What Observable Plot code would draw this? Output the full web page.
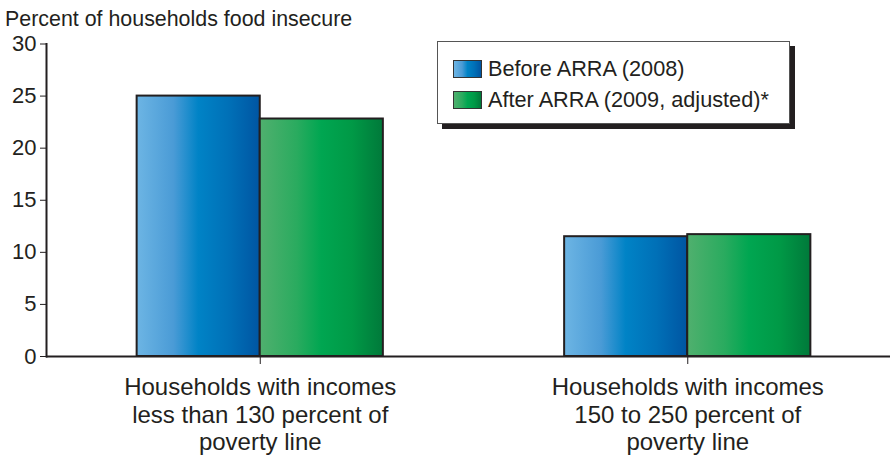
<!DOCTYPE html>
<html>
<head>
<meta charset="utf-8">
<script src="https://cdn.jsdelivr.net/npm/d3@7"></script>
<script src="https://cdn.jsdelivr.net/npm/@observablehq/plot@0.6"></script>
<style>
  html, body { margin: 0; padding: 0; background: #fff; }
  #wrap { position: relative; width: 890px; height: 459px; font-family: "Liberation Sans", Arial, sans-serif; color: #231f20; }
  #title { height: 36px; line-height: 36px; padding-left: 5px; padding-top: 1px; font-size: 21.4px; box-sizing: border-box; white-space: nowrap; }
  #legend { position: absolute; left: 437px; top: 41px; width: 353px; height: 83px; box-sizing: border-box;
            background: #fff; border: 1.5px solid #555; box-shadow: 5px 5px 0 #231f20; }
  .row { position: absolute; left: 15px; display: flex; align-items: center; font-size: 21.7px; white-space: nowrap; }
  .sw { width: 29px; height: 18px; box-sizing: border-box; border: 1px solid #333; margin-right: 6px; }
</style>
</head>
<body>
<div id="wrap">
  <div id="title"></div>
  <div id="chart"></div>
  <div id="legend"></div>
</div>
<script>
// Food insecurity by income group, before and after ARRA
const titleText = "Percent of households food insecure";
const categories = ["lt130", "150to250"];
const categoryLabels = [
  "Households with incomes\nless than 130 percent of\npoverty line",
  "Households with incomes\n150 to 250 percent of\npoverty line"
];
const seriesNames = ["Before ARRA (2008)", "After ARRA (2009, adjusted)*"];
const before2008 = [25.0, 11.5];
const after2009 = [22.8, 11.7];
const yTicks = [0, 5, 10, 15, 20, 25, 30];

const ink = "#231f20";
const blueStops = [[0, "#6db5e4"], [0.3, "#4a9bd6"], [0.5, "#0083c6"], [0.75, "#0070b7"], [1, "#0055a2"]];
const greenStops = [[0, "#50b06e"], [0.3, "#2aab5f"], [0.5, "#00a651"], [0.75, "#009946"], [1, "#00793a"]];

const rowsBefore = categories.map((c, i) => ({category: c, value: before2008[i]}));
const rowsAfter = categories.map((c, i) => ({category: c, value: after2009[i]}));
const labelOf = new Map(categories.map((c, i) => [c, categoryLabels[i]]));

// gradient definitions shared by the bars
function gradientDefs() {
  const defs = d3.create("svg:defs");
  for (const [id, stops] of [["gradBefore", blueStops], ["gradAfter", greenStops]]) {
    const g = defs.append("linearGradient").attr("id", id).attr("x1", 0).attr("x2", 1).attr("y1", 0).attr("y2", 0);
    for (const [o, c] of stops) g.append("stop").attr("offset", o).attr("stop-color", c);
  }
  return defs.node();
}

const chart = Plot.plot({
  width: 890,
  height: 423,
  marginTop: 7.5,
  marginBottom: 103,
  marginLeft: 46,
  marginRight: 0,
  style: {fontFamily: "Liberation Sans, Arial, sans-serif", color: ink, background: "#fff", overflow: "visible"},
  x: {domain: categories, range: [46, 901], paddingInner: 0.712, paddingOuter: 0.356, round: false},
  y: {domain: [0, 30]},
  marks: [
    gradientDefs,
    Plot.barY(rowsBefore, {x: "category", y: "value", fill: "url(#gradBefore)", stroke: ink, strokeWidth: 2, dx: -61.55}),
    Plot.barY(rowsAfter, {x: "category", y: "value", fill: "url(#gradAfter)", stroke: ink, strokeWidth: 2, dx: 61.55}),
    Plot.axisY({ticks: yTicks, tickSize: 6, tickPadding: 4, fontSize: 22, color: ink, label: null}),
    Plot.frame({anchor: "left", stroke: ink, strokeWidth: 2}),
    Plot.ruleY([0], {stroke: ink, strokeWidth: 2}),
    Plot.axisX({tickSize: 8, tickPadding: 11, fontSize: 24, lineHeight: 1.15, color: ink, label: null,
                tickFormat: d => labelOf.get(d)})
  ]
});
document.getElementById("chart").appendChild(chart);
document.getElementById("title").textContent = titleText;

// legend box
const legend = d3.select("#legend");
const grad = stops => `linear-gradient(to right, ${stops.map(([o, c]) => `${c} ${o * 100}%`).join(", ")})`;
[[seriesNames[0], blueStops, 14], [seriesNames[1], greenStops, 45]].forEach(([name, stops, top]) => {
  const row = legend.append("div").attr("class", "row").style("top", top + "px");
  row.append("div").attr("class", "sw").style("background", grad(stops));
  row.append("span").text(name);
});
</script>
</body>
</html>
